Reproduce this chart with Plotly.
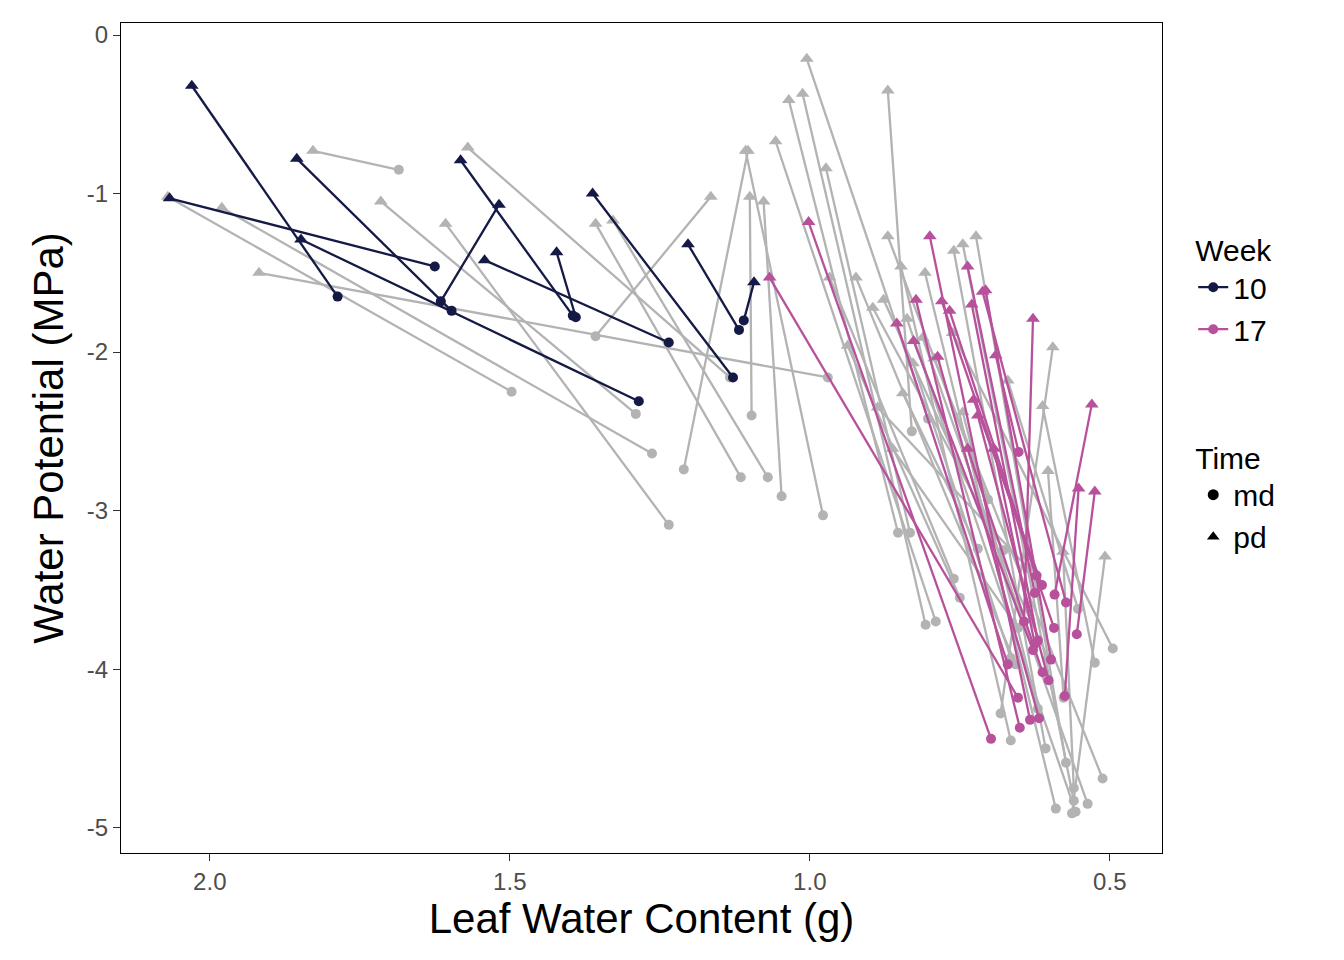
import plotly.graph_objects as go

# week 10: predawn (pd) -> midday (md)
w10_pd_x = [2.03, 1.855, 2.067, 1.848, 1.582, 1.518, 1.542, 1.422, 1.362, 1.203, 1.093]
w10_pd_y = [-0.32, -0.78, -1.03, -1.29, -0.79, -1.07, -1.42, -1.37, -1.00, -1.32, -1.56]
w10_md_x = [1.787, 1.597, 1.625, 1.285, 1.395, 1.615, 1.235, 1.39, 1.128, 1.118, 1.11]
w10_md_y = [-1.65, -1.74, -1.46, -2.31, -1.77, -1.68, -1.94, -1.78, -2.16, -1.86, -1.80]

# week 17
w17_pd_x = [1.067, 1.002, 0.855, 0.823, 0.800, 0.787, 0.767, 0.737, 0.727, 0.720, 0.712,
            0.707, 0.690, 0.693, 0.628, 0.552, 0.530, 0.525, 0.737, 0.827, 0.780, 0.730]
w17_pd_y = [-1.53, -1.18, -1.82, -1.67, -1.27, -2.03, -1.74, -1.46, -2.30, -2.40, -1.62,
            -1.61, -2.02, -2.61, -1.79, -2.86, -2.33, -2.88, -2.61, -1.93, -1.68, -1.70]
w17_md_x = [0.653, 0.698, 0.670, 0.650, 0.633, 0.618, 0.622, 0.625, 0.613, 0.602, 0.573,
            0.598, 0.652, 0.625, 0.643, 0.575, 0.592, 0.555, 0.612, 0.628, 0.593, 0.620]
w17_md_y = [-4.18, -4.44, -3.97, -4.37, -4.32, -4.31, -3.41, -3.52, -3.47, -4.07, -3.58,
            -3.94, -2.63, -3.84, -3.70, -4.17, -3.53, -3.78, -4.02, -3.88, -3.74, -3.82]

# other weeks (grey)
oth_pd_x = [1.828, 2.07, 1.98, 1.918, 1.715, 1.607, 1.57, 1.357, 1.328, 1.165, 1.103, 1.10,
            1.077, 1.107, 1.005, 1.035, 1.012, 1.057, 0.973, 0.87, 0.967, 0.937, 0.87, 0.923,
            0.895, 0.848, 0.808, 0.76, 0.745, 0.723, 0.877, 0.838, 0.812, 0.793, 0.762, 0.595,
            0.612, 0.603, 0.508, 0.578, 0.828, 0.845, 0.862, 0.887, 0.745, 0.67]
oth_pd_y = [-0.73, -1.02, -1.09, -1.50, -1.05, -1.19, -0.71, -1.19, -1.17, -1.02, -0.73, -1.02,
            -1.05, -0.73, -0.15, -0.41, -0.37, -0.67, -0.84, -0.35, -1.53, -1.96, -1.27, -1.53,
            -1.72, -1.46, -1.50, -1.36, -1.32, -1.27, -1.67, -1.79, -1.91, -2.04, -1.88, -1.97,
            -2.34, -2.75, -3.29, -3.26, -2.07, -2.26, -2.61, -2.35, -2.38, -2.18]
oth_md_x = [1.685, 1.497, 1.263, 0.97, 1.29, 1.235, 1.133, 1.115, 1.07, 1.357, 1.21, 1.097,
            1.047, 0.978, 0.803, 0.853, 0.807, 0.79, 0.833, 0.83, 0.76, 0.75, 0.703, 0.657,
            0.677, 0.665, 0.59, 0.607, 0.56, 0.573, 0.603, 0.557, 0.537, 0.512, 0.495, 0.682,
            0.525, 0.577, 0.563, 0.56, 0.665, 0.72, 0.653, 0.637, 0.62, 0.553]
oth_md_y = [-0.85, -2.25, -2.64, -2.16, -2.39, -3.09, -2.16, -2.79, -2.79, -1.90, -2.74, -2.40,
            -2.91, -3.03, -2.42, -3.14, -3.72, -3.70, -3.14, -2.50, -3.43, -3.55, -2.93, -3.97,
            -3.25, -4.45, -4.88, -4.50, -4.83, -4.59, -3.93, -4.90, -4.85, -4.69, -3.87, -4.28,
            -3.96, -4.18, -4.91, -4.75, -3.93, -3.24, -3.74, -3.36, -4.25, -3.62]

y_ticks = [0, -1, -2, -3, -4, -5]
y_labels = ["0", "-1", "-2", "-3", "-4", "-5"]

GREY = "#b3b3b3"
NAVY = "#141a45"
PINK = "#b8519b"


def add_group(fig, pdx, pdy, mdx, mdy, color):
    lx, ly = [], []
    for a, b, c, d in zip(pdx, pdy, mdx, mdy):
        lx += [a, c, None]
        ly += [b, d, None]
    fig.add_trace(go.Scatter(x=lx, y=ly, mode="lines", line=dict(color=color, width=2.3),
                             showlegend=False, hoverinfo="skip"))
    fig.add_trace(go.Scatter(x=mdx, y=mdy, mode="markers", showlegend=False,
                             marker=dict(color=color, size=10, symbol="circle")))
    fig.add_trace(go.Scatter(x=pdx, y=pdy, mode="markers", showlegend=False,
                             marker=dict(color=color, size=12, symbol="triangle-up")))


fig = go.Figure()
add_group(fig, oth_pd_x, oth_pd_y, oth_md_x, oth_md_y, GREY)
add_group(fig, w10_pd_x, w10_pd_y, w10_md_x, w10_md_y, NAVY)
add_group(fig, w17_pd_x, w17_pd_y, w17_md_x, w17_md_y, PINK)

# legend entries
for name, c in [("10", NAVY), ("17", PINK)]:
    fig.add_trace(go.Scatter(x=[None], y=[None], mode="lines+markers", name=name,
                             line=dict(color=c, width=2.3), marker=dict(color=c, size=10),
                             legend="legend"))
for name, s in [("md", "circle"), ("pd", "triangle-up")]:
    fig.add_trace(go.Scatter(x=[None], y=[None], mode="markers", name=name,
                             marker=dict(color="black", size=11, symbol=s), legend="legend2"))

axis_common = dict(showgrid=False, zeroline=False, showline=True, mirror=True,
                   linecolor="black", linewidth=1.2, ticks="outside", ticklen=7,
                   tickcolor="#333", tickfont=dict(size=24, color="#4d4d4d"))

fig.update_layout(
    width=1344, height=960,
    paper_bgcolor="white", plot_bgcolor="white",
    font=dict(family="Liberation Sans, Arial, sans-serif", color="black"),
    margin=dict(l=113, r=190, t=15, b=115),
    xaxis=dict(range=[2.148, 0.413], tickvals=[2.0, 1.5, 1.0, 0.5],
               ticktext=["2.0", "1.5", "1.0", "0.5"],
               title=dict(text="Leaf Water Content (g)", font=dict(size=42), standoff=8),
               **axis_common),
    yaxis=dict(range=[-5.16, 0.076], tickvals=y_ticks, ticktext=y_labels,
               title=dict(text="Water Potential (MPa)", font=dict(size=42), standoff=10),
               **axis_common),
    legend=dict(title=dict(text="Week", font=dict(size=30)), x=1.03, y=0.76,
                xanchor="left", yanchor="top", font=dict(size=30), bgcolor="rgba(0,0,0,0)"),
    legend2=dict(title=dict(text="Time", font=dict(size=30)), x=1.03, y=0.51,
                 xanchor="left", yanchor="top", font=dict(size=30), bgcolor="rgba(0,0,0,0)"),
)

fig.write_html("out.html")
